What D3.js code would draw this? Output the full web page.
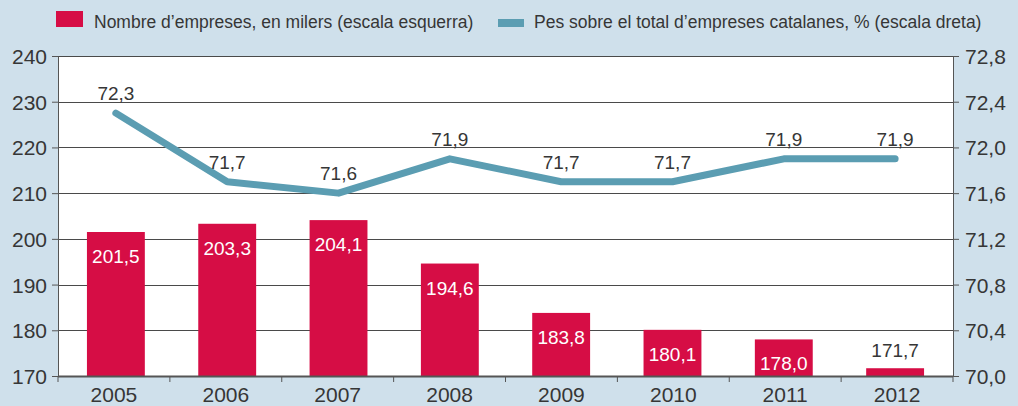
<!DOCTYPE html>
<html>
<head>
<meta charset="utf-8">
<script src="https://cdn.jsdelivr.net/npm/d3@7"></script>
<style>
  body { margin: 0; background: #cfe0eb; }
  svg { display: block; font-family: "Liberation Sans", Arial, sans-serif; }
</style>
</head>
<body>
<svg width="1018" height="406"></svg>
<script>
var years = ["2005", "2006", "2007", "2008", "2009", "2010", "2011", "2012"];
var empreses = [201.5, 203.3, 204.1, 194.6, 183.8, 180.1, 178.0, 171.7];
var pes = [72.3, 71.7, 71.6, 71.9, 71.7, 71.7, 71.9, 71.9];
var leftTicks = [170, 180, 190, 200, 210, 220, 230, 240];
var rightTicks = [70.0, 70.4, 70.8, 71.2, 71.6, 72.0, 72.4, 72.8];

var svg = d3.select("svg"),
    width = +svg.attr("width"),
    height = +svg.attr("height");

var margin = {top: 56, right: 65, bottom: 30, left: 58};
var x0 = margin.left, x1 = width - margin.right,
    y0 = height - margin.bottom, y1 = margin.top;

var fmt = function(v) { return d3.format(".1f")(v).replace(".", ","); };

var x = d3.scaleBand().domain(years).range([x0, x1]).paddingInner(0.48).paddingOuter(0.26);
var xb = d3.scaleBand().domain(years).range([x0, x1]);
var yL = d3.scaleLinear().domain([170, 240]).range([y0, y1]);
var yR = d3.scaleLinear().domain([70, 72.8]).range([y0, y1]);

var red = "#d60d45", blue = "#5b9db2", txt = "#363636";

// plot background
svg.append("rect").attr("x", x0).attr("y", y1).attr("width", x1 - x0).attr("height", y0 - y1).attr("fill", "#fff");

// gridlines
svg.append("g").selectAll("line").data(leftTicks).enter().append("line")
    .attr("x1", x0).attr("x2", x1)
    .attr("y1", function(d) { return Math.round(yL(d)) + 0.5; })
    .attr("y2", function(d) { return Math.round(yL(d)) + 0.5; })
    .attr("stroke", "#4a4a4a").attr("stroke-width", 1);

// bars
svg.append("g").selectAll("rect").data(empreses).enter().append("rect")
    .attr("x", function(d, i) { return x(years[i]); })
    .attr("width", x.bandwidth())
    .attr("y", function(d) { return yL(d); })
    .attr("height", function(d) { return y0 - yL(d); })
    .attr("fill", red);

svg.append("g").selectAll("text").data(empreses).enter().append("text")
    .attr("x", function(d, i) { return x(years[i]) + x.bandwidth() / 2; })
    .attr("y", function(d, i) { return i == empreses.length - 1 ? yL(d) - 11 : yL(d) + 31; })
    .attr("text-anchor", "middle")
    .attr("font-size", 19)
    .attr("fill", function(d, i) { return i == empreses.length - 1 ? txt : "#fff"; })
    .text(function(d) { return fmt(d); });

// line
var line = d3.line()
    .x(function(d, i) { return x(years[i]) + x.bandwidth() / 2; })
    .y(function(d) { return yR(d); });

svg.append("path").datum(pes)
    .attr("d", line)
    .attr("fill", "none")
    .attr("stroke", blue)
    .attr("stroke-width", 7)
    .attr("stroke-linecap", "round")
    .attr("stroke-linejoin", "round");

svg.append("g").selectAll("text").data(pes).enter().append("text")
    .attr("x", function(d, i) { return x(years[i]) + x.bandwidth() / 2; })
    .attr("y", function(d) { return yR(d) - 13; })
    .attr("text-anchor", "middle")
    .attr("font-size", 19)
    .attr("fill", txt)
    .text(function(d) { return fmt(d); });

// axes
var axL = svg.append("g").attr("transform", "translate(" + x0 + ",0)")
    .call(d3.axisLeft(yL).tickValues(leftTicks).tickSize(6).tickPadding(5).tickFormat(d3.format("d")));
var axR = svg.append("g").attr("transform", "translate(" + x1 + ",0)")
    .call(d3.axisRight(yR).tickValues(rightTicks).tickSize(6).tickPadding(6).tickFormat(fmt));
var axB = svg.append("g").attr("transform", "translate(0," + y0 + ")")
    .call(d3.axisBottom(xb).tickSize(0).tickPadding(11));

[axL, axR, axB].forEach(function(a) {
    a.selectAll("text").attr("font-size", 21).attr("fill", txt).attr("font-family", "Liberation Sans, Arial, sans-serif");
    a.selectAll("line").attr("stroke", "#555");
    a.select(".domain").attr("stroke", "#555");
});
axL.selectAll("text").attr("dy", "0.36em");
axR.selectAll("text").attr("dy", "0.36em");
axB.select(".domain").remove();
svg.append("line").attr("x1", x0).attr("x2", x1).attr("y1", y0 + 0.5).attr("y2", y0 + 0.5).attr("stroke", "#555").attr("stroke-width", 2);
axB.selectAll(".sep").data(years.concat(["end"])).enter().append("line")
    .attr("x1", function(d, i) { return x0 + i * xb.bandwidth(); })
    .attr("x2", function(d, i) { return x0 + i * xb.bandwidth(); })
    .attr("y1", 0).attr("y2", 6).attr("stroke", "#555");

// legend
var leg = svg.append("g");
leg.append("rect").attr("x", 56).attr("y", 11).attr("width", 27).attr("height", 16).attr("fill", red);
leg.append("text").attr("x", 94).attr("y", 28).attr("font-size", 17.5).attr("fill", txt)
    .text("Nombre d\u2019empreses, en milers (escala esquerra)");
leg.append("rect").attr("x", 498).attr("y", 19).attr("width", 26).attr("height", 8).attr("fill", blue);
leg.append("text").attr("x", 534).attr("y", 28).attr("font-size", 17.5).attr("fill", txt)
    .text("Pes sobre el total d\u2019empreses catalanes, % (escala dreta)");
</script>
</body>
</html>
